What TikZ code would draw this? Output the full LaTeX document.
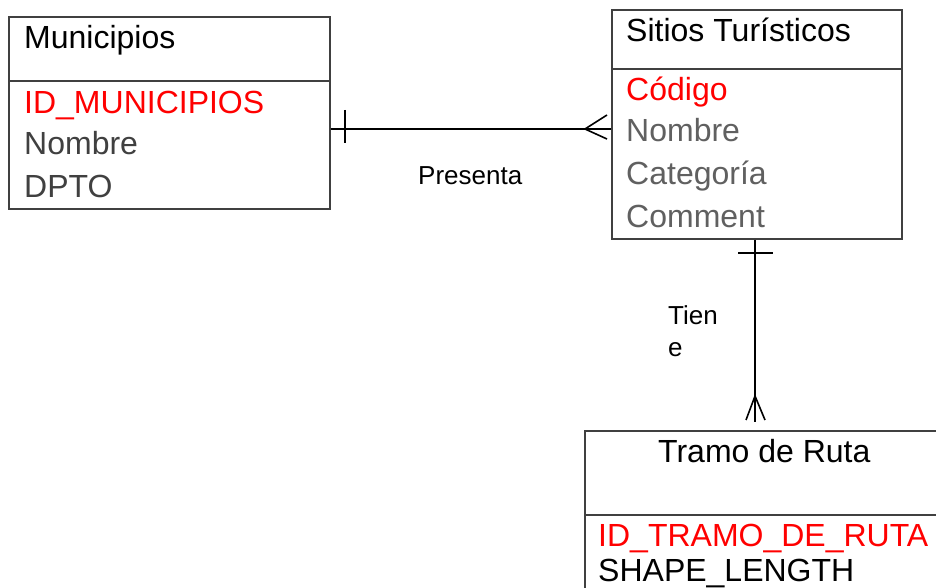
\documentclass[tikz,border=0pt]{standalone}
\usepackage{fontspec}
\setmainfont{Liberation Sans}
\definecolor{boxline}{HTML}{404040}
\definecolor{attrdark}{HTML}{404040}
\definecolor{attrmid}{HTML}{606060}
\definecolor{keyred}{HTML}{FF0000}
\begin{document}
\begin{tikzpicture}[x=1pt,y=-1pt,
  entity/.style={draw=boxline,line width=1.2pt,rectangle,inner sep=0pt},
  divline/.style={draw=boxline,line width=1.2pt},
  conn/.style={draw=black,line width=1.6pt},
  big/.style={inner sep=0pt,anchor=base west,font=\fontsize{32}{36}\selectfont},
  small/.style={inner sep=0pt,anchor=base west,font=\fontsize{26}{30}\selectfont}]
\path[use as bounding box] (0,0) rectangle (936,588);
\clip (0,0) rectangle (936,588);
\fill[white] (0,0) rectangle (936,588);

% Municipios
\node[entity,minimum width=321pt,minimum height=192pt] (muni) at (169.5,113) {};
\draw[divline] (muni.west |- 0,81) -- (muni.east |- 0,81);
\node[big] (munititle) at (24,49) {Municipios};
\node[big,text=keyred] (muniid) at (24,113.5) {ID\_MUNICIPIOS};
\node[big,text=attrdark] (muninom) at (24,155) {Nombre};
\node[big,text=attrdark] (munidpto) at (24,197) {DPTO};

% Sitios Turisticos
\node[entity,minimum width=290pt,minimum height=229pt] (sitios) at (757,124.5) {};
\draw[divline] (sitios.west |- 0,69) -- (sitios.east |- 0,69);
\node[big] (sitiostitle) at (626,42) {Sitios Turísticos};
\node[big,text=keyred] (sitioscod) at (626,100.5) {Código};
\node[big,text=attrmid] (sitiosnom) at (626,142) {Nombre};
\node[big,text=attrmid] (sitioscat) at (626,184.5) {Categoría};
\node[big,text=attrmid] (sitioscom) at (626,227) {Comment};

% Tramo de Ruta
\node[entity,minimum width=375pt,minimum height=189pt] (tramo) at (772.5,525.5) {};
\draw[divline] (tramo.west |- 0,515) -- (tramo.east |- 0,515);
\node[big] (tramotitle) at (658,462) {Tramo de Ruta};
\node[big,text=keyred] (tramoid) at (598,546) {ID\_TRAMO\_DE\_RUTA};
\node[big] (tramoshape) at (598,581) {SHAPE\_LENGTH};

% Presenta connector
\draw[conn] (muni.east |- 0,129) -- (sitios.west |- 0,129);
\draw[conn] (345,110) -- (345,143);
\draw[conn] (607,115) -- (585,129) -- (607,139);
\node[small] (presenta) at (418,184) {Presenta};

% Tiene connector
\coordinate (tieneend) at (755,422);
\draw[conn] (sitios.south -| tieneend) -- (tieneend);
\draw[conn] (738,253) -- (773,253);
\draw[conn] (746,420) -- (755,396) -- (765,420);
\node[small] (tiene1) at (668,324) {Tien};
\node[small] (tiene2) at (668,356) {e};
\end{tikzpicture}
\end{document}
